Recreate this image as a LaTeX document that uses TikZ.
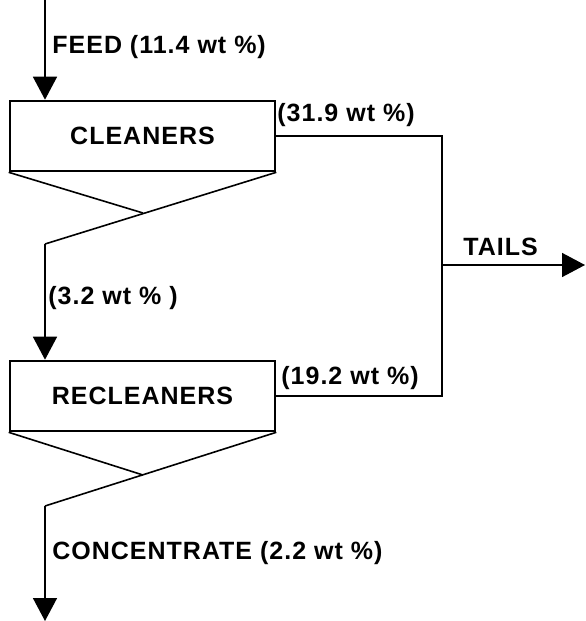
\documentclass[tikz,border=0pt]{standalone}
\usepackage{fontspec}
\setmainfont[LetterSpace=4]{Liberation Sans}
\usetikzlibrary{arrows.meta}
\begin{document}
\begin{tikzpicture}[x=0.5pt,y=-0.5pt]
		% Styles
		\tikzstyle{fleche}=[->,>={Triangle[length=11.5pt,width=12pt]},line width=0.8pt]
		\tikzstyle{trait}=[-,line width=0.8pt]
		\tikzstyle{cellule}=[draw,line width=1.3pt,minimum width=132.5pt,minimum height=35pt,inner sep=0pt,font=\fontsize{12.5}{15}\selectfont\bfseries]
		\tikzstyle{etiquette}=[anchor=west,inner sep=0pt,font=\fontsize{12.5}{15}\selectfont\bfseries]
		% Cadre
		\useasboundingbox (0,0) rectangle (585,621);
		% Cellules
		\node[cellule] (cleaners) at (142.5,136) {CLEANERS};
		\node[cellule] (recleaners) at (142.5,396) {RECLEANERS};
		% Points de passage
		\coordinate (alim) at (45,0);
		\coordinate (croixA) at (143,213);
		\coordinate (sortieA) at (45,244);
		\coordinate (croixB) at (143,475);
		\coordinate (sortieB) at (45,506);
		\coordinate (bas) at (45,621);
		\coordinate (jonctionH) at (442,136);
		\coordinate (jonctionB) at (442,396);
		\coordinate (jonctionM) at (442,265);
		\coordinate (rejet) at (585,265);
		% Textes
		\node[etiquette] (feed) at (52,47) {FEED (11.4 wt \%)};
		\node[etiquette] (mixte) at (48,298) {(3.2 wt \% )};
		\node[etiquette] (concentre) at (52,553) {CONCENTRATE (2.2 wt \%)};
		\node[etiquette] (rejetA) at (277,115) {(31.9 wt \%)};
		\node[etiquette] (rejetB) at (281,378) {(19.2 wt \%)};
		\node[etiquette] (tails) at (463,247) {TAILS};
		% Arcs
		\draw[fleche] (alim)--(alim |- cleaners.north);
		\draw[trait] (cleaners.south west)--(croixA);
		\draw[trait] (cleaners.south east)--(sortieA);
		\draw[fleche] (sortieA)--(sortieA |- recleaners.north);
		\draw[trait] (recleaners.south west)--(croixB);
		\draw[trait] (recleaners.south east)--(sortieB);
		\draw[fleche] (sortieB)--(bas);
		\draw[trait] (cleaners.east)--(jonctionH)--(jonctionB)--(recleaners.east);
		\draw[fleche] (jonctionM)--(rejet);
	\end{tikzpicture}
\end{document}
